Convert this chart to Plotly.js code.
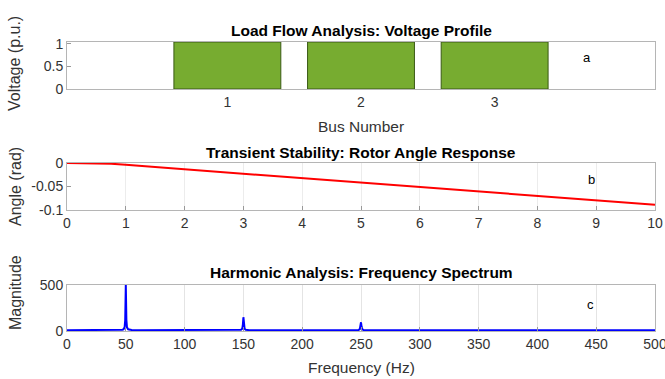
<!DOCTYPE html>
<html><head><meta charset="utf-8">
<script src="https://cdn.plot.ly/plotly-3.0.1.min.js"></script>
<style>html,body{margin:0;padding:0;background:#fff}</style>
</head><body><div id="chart" style="width:665px;height:379px"></div>
<script>
// Panel a: load flow
const busNumbers = [1, 2, 3];
const busVoltages = [1.04, 1.04, 1.04];
// Panel b: rotor angle
const timeSec = [0, 0.25, 0.5, 0.6, 0.75, 1, 1.5, 2, 2.5, 3, 3.5, 4, 4.5, 5, 5.5, 6, 6.5, 7, 7.5, 8, 8.5, 9, 9.5, 10];
const rotorAngle = [0, 0, 0, -0.0003, -0.0015, -0.0038, -0.0085, -0.013, -0.0178, -0.0225, -0.0272, -0.032, -0.0368, -0.0415, -0.0462, -0.051, -0.0558, -0.0605, -0.0652, -0.07, -0.0748, -0.0795, -0.0842, -0.089];
// Panel c: spectrum
const freqHz = [0, 20, 40, 45, 47, 48, 49, 49.5, 50, 50.5, 51, 52, 53, 55, 60, 100, 140, 145, 147, 148, 149, 149.5, 150, 150.5, 151, 152, 153, 155, 160, 200, 240, 245, 247, 248, 249, 249.5, 250, 250.5, 251, 252, 253, 255, 260, 300, 400, 500];
const magnitude = [8, 8, 9, 11, 14, 18, 40, 120, 500, 120, 40, 18, 14, 11, 9, 8, 8, 9, 11, 14, 25, 60, 150, 60, 25, 14, 11, 9, 8, 8, 8, 9, 10, 12, 20, 45, 95, 45, 20, 12, 10, 9, 8, 8, 8, 8];

const font = 'Liberation Sans, Arial, sans-serif';
const dom = [67/665, 655/665];
const baseAxis = {
  showline: true, mirror: true, linecolor: '#b5b5b5', linewidth: 1,
  ticks: 'inside', ticklen: 4, tickcolor: '#999', zeroline: false,
  tickfont: {family: font, size: 14, color: '#333'},
  showgrid: false, fixedrange: true, ticklabeloverflow: 'allow'
};
const traces = [
  {type: 'bar', x: busNumbers, y: busVoltages, xaxis: 'x', yaxis: 'y', width: 0.8,
   marker: {color: '#77AC30', line: {color: '#3a5a15', width: 1}}, hoverinfo: 'none'},
  {type: 'scatter', mode: 'lines', x: timeSec, y: rotorAngle, xaxis: 'x2', yaxis: 'y2',
   line: {color: '#ff0000', width: 2}, hoverinfo: 'none'},
  {type: 'scatter', mode: 'lines', x: freqHz, y: magnitude, xaxis: 'x3', yaxis: 'y3',
   line: {color: '#0000ff', width: 2}, hoverinfo: 'none'}
];
function yd(top, bot){ return [1 - bot/379, 1 - top/379]; }
function ann(text, px, py, size, color, angle){
  return {text: text, x: px/665, y: 1 - py/379, xref: 'paper', yref: 'paper', showarrow: false,
    xanchor: 'center', yanchor: 'middle', textangle: angle || 0,
    font: {family: font, size: size, color: color}};
}
const layout = {
  width: 665, height: 379, margin: {l: 0, r: 0, t: 0, b: 0},
  paper_bgcolor: '#fff', plot_bgcolor: '#fff', showlegend: false,
  xaxis: Object.assign({}, baseAxis, {domain: dom, anchor: 'y', range: [-0.2, 4.2], tickvals: busNumbers, ticktext: ['1','2','3'], ticklen: 0, showgrid: true, gridcolor: '#e4e4e4', layer: 'above traces'}),
  yaxis: Object.assign({}, baseAxis, {domain: yd(42, 89), anchor: 'x', range: [0, 1.04], tickvals: [0, 0.5, 1], ticktext: ['0', '0.5', '1']}),
  xaxis2: Object.assign({}, baseAxis, {domain: dom, anchor: 'y2', range: [0, 10], tickvals: [0,1,2,3,4,5,6,7,8,9,10], showgrid: true, gridcolor: '#ececec'}),
  yaxis2: Object.assign({}, baseAxis, {domain: yd(163, 210), anchor: 'x2', range: [-0.1, 0], tickvals: [-0.1, -0.05, 0], ticktext: ['-0.1', '-0.05', '0']}),
  xaxis3: Object.assign({}, baseAxis, {domain: dom, anchor: 'y3', range: [0, 500], tickvals: [0,50,100,150,200,250,300,350,400,450,500], showgrid: true, gridcolor: '#e4e4e4'}),
  yaxis3: Object.assign({}, baseAxis, {domain: yd(285, 331), anchor: 'x3', range: [0, 500], tickvals: [0, 500], ticktext: ['0', '500']}),
  annotations: [
    ann('<b>Load Flow Analysis: Voltage Profile</b>', 361, 30, 15.5, '#000'),
    ann('<b>Transient Stability: Rotor Angle Response</b>', 361, 152, 15.5, '#000'),
    ann('<b>Harmonic Analysis: Frequency Spectrum</b>', 361, 272, 15.5, '#000'),
    ann('Bus Number', 361, 127, 15.5, '#333'),
    ann('Frequency (Hz)', 361, 367, 15.5, '#333'),
    ann('Voltage (p.u.)', 15, 64, 16, '#333', -90),
    ann('Angle (rad)', 15, 187, 16, '#333', -90),
    ann('Magnitude', 15, 293, 16, '#333', -90),
    ann('a', 587, 58, 13, '#000'),
    ann('b', 591, 179, 13, '#000'),
    ann('c', 590, 304, 13, '#000')
  ]
};
Plotly.newPlot('chart', traces, layout, {staticPlot: true, displayModeBar: false});
</script></body></html>
